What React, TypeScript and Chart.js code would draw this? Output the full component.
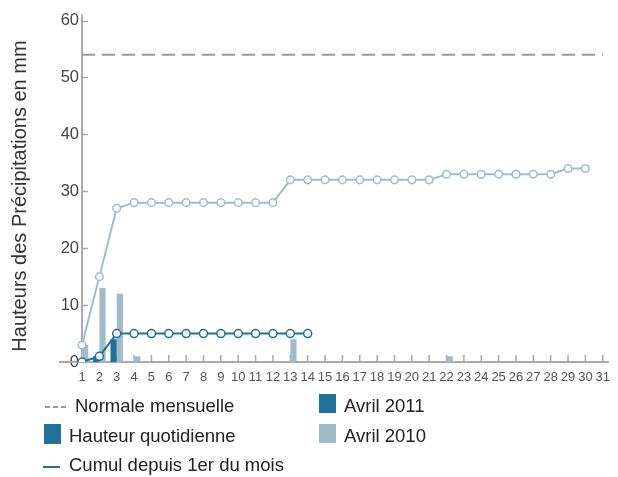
import React, { useEffect, useRef } from 'react';
import { Chart, registerables } from 'chart.js';

Chart.register(...registerables);

const dayLabels = ['1', '2', '3', '4', '5', '6', '7', '8', '9', '10', '11', '12', '13', '14', '15', '16', '17', '18', '19', '20', '21', '22', '23', '24', '25', '26', '27', '28', '29', '30', '31'];

const normaleMensuelle = [54, 54, 54, 54, 54, 54, 54, 54, 54, 54, 54, 54, 54, 54, 54, 54, 54, 54, 54, 54, 54, 54, 54, 54, 54, 54, 54, 54, 54, 54, 54];

const cumul2011 = [0, 1, 5, 5, 5, 5, 5, 5, 5, 5, 5, 5, 5, 5];
const cumul2010 = [3, 15, 27, 28, 28, 28, 28, 28, 28, 28, 28, 28, 32, 32, 32, 32, 32, 32, 32, 32, 32, 33, 33, 33, 33, 33, 33, 33, 34, 34];

const quotidien2011 = [0, 1, 4, 0, 0, 0, 0, 0, 0, 0, 0, 0, 0, 0];
const quotidien2010 = [3, 13, 12, 1, 0, 0, 0, 0, 0, 0, 0, 0, 4, 0, 0, 0, 0, 0, 0, 0, 0, 1, 0, 0, 0, 0, 0, 0, 0, 0];

const yTicks = [0, 10, 20, 30, 40, 50, 60];
const yTitle = 'Hauteurs des Précipitations en mm';

const DARK = '#20719c';
const LIGHT = '#a0bccb';
const AXIS = '#aaaaaa';
const FONT = '"Liberation Sans", Arial, sans-serif';

const decorPlugin = {
  id: 'decor',
  beforeDatasetsDraw(chart: any) {
    const { ctx, chartArea, scales } = chart;
    const x = scales.x;
    const y = scales.y;
    const y0 = y.getPixelForValue(0);
    ctx.save();
    ctx.strokeStyle = AXIS;
    ctx.lineWidth = 2;
    ctx.beginPath();
    ctx.moveTo(chartArea.left, chartArea.top - 6);
    ctx.lineTo(chartArea.left, y0 + 1);
    ctx.stroke();
    ctx.beginPath();
    ctx.moveTo(chartArea.left - 23, y0);
    ctx.lineTo(chartArea.right + 6, y0);
    ctx.stroke();
    ctx.lineWidth = 1.5;
    yTicks.forEach((v) => {
      const py = Math.round(y.getPixelForValue(v)) + 0.5;
      ctx.beginPath();
      ctx.moveTo(chartArea.left, py);
      ctx.lineTo(chartArea.left + 6, py);
      ctx.stroke();
    });
    dayLabels.forEach((_, i) => {
      const px = x.getPixelForValue(i);
      ctx.beginPath();
      ctx.moveTo(px, y0);
      ctx.lineTo(px, y0 - 7);
      ctx.stroke();
    });
    // y-axis title
    ctx.save();
    ctx.translate(20, 196);
    ctx.rotate(-Math.PI / 2);
    ctx.font = `20px ${FONT}`;
    ctx.fillStyle = '#333';
    ctx.textAlign = 'center';
    ctx.textBaseline = 'middle';
    ctx.fillText(yTitle, 0, 0);
    ctx.restore();
    ctx.restore();
  },
  afterDraw(chart: any) {
    const { ctx } = chart;
    ctx.save();
    ctx.font = `18.5px ${FONT}`;
    ctx.fillStyle = '#222';
    ctx.textBaseline = 'middle';
    ctx.textAlign = 'left';
    // Normale mensuelle
    ctx.strokeStyle = '#999';
    ctx.lineWidth = 2;
    ctx.setLineDash([5, 3]);
    ctx.beginPath();
    ctx.moveTo(45, 407);
    ctx.lineTo(69, 407);
    ctx.stroke();
    ctx.setLineDash([]);
    ctx.fillText('Normale mensuelle', 75, 407);
    // Hauteur quotidienne
    ctx.fillStyle = DARK;
    ctx.fillRect(44, 424, 17, 20);
    ctx.fillStyle = '#222';
    ctx.fillText('Hauteur quotidienne', 69, 437);
    // Cumul
    ctx.strokeStyle = DARK;
    ctx.lineWidth = 2;
    ctx.beginPath();
    ctx.moveTo(43, 467);
    ctx.lineTo(60, 467);
    ctx.stroke();
    ctx.fillText('Cumul depuis 1er du mois', 69, 466);
    // Avril 2011
    ctx.fillStyle = DARK;
    ctx.fillRect(319, 394, 17, 19);
    ctx.fillStyle = '#222';
    ctx.fillText('Avril 2011', 344, 407);
    // Avril 2010
    ctx.fillStyle = LIGHT;
    ctx.fillRect(319, 424, 17, 19);
    ctx.fillStyle = '#222';
    ctx.fillText('Avril 2010', 344, 437);
    ctx.restore();
  },
};

export default function App() {
  const canvasRef = useRef<HTMLCanvasElement | null>(null);

  useEffect(() => {
    const canvas = canvasRef.current;
    if (!canvas) return;
    const chart = new Chart(canvas, {
      type: 'bar',
      data: {
        labels: dayLabels,
        datasets: [
          {
            type: 'line',
            label: 'Normale mensuelle',
            data: normaleMensuelle,
            borderColor: '#999999',
            borderWidth: 2,
            borderDash: [13, 7],
            pointRadius: 0,
            fill: false,
          },
          {
            type: 'line',
            label: 'Cumul 2011',
            data: cumul2011,
            borderColor: DARK,
            borderWidth: 2,
            pointRadius: 4,
            pointBackgroundColor: '#ffffff',
            pointBorderColor: DARK,
            pointBorderWidth: 1.5,
            fill: false,
            tension: 0,
          },
          {
            type: 'line',
            label: 'Cumul 2010',
            data: cumul2010,
            borderColor: LIGHT,
            borderWidth: 2,
            pointRadius: 3.8,
            pointBackgroundColor: '#ffffff',
            pointBorderColor: LIGHT,
            pointBorderWidth: 1.5,
            fill: false,
            tension: 0,
          },
          {
            type: 'bar',
            label: 'Avril 2011',
            data: quotidien2011,
            backgroundColor: DARK,
            borderWidth: 0,
            categoryPercentage: 0.72,
            barPercentage: 1,
          },
          {
            type: 'bar',
            label: 'Avril 2010',
            data: quotidien2010,
            backgroundColor: LIGHT,
            borderWidth: 0,
            categoryPercentage: 0.72,
            barPercentage: 1,
          },
        ],
      },
      options: {
        animation: false,
        responsive: false,
        maintainAspectRatio: false,
        layout: { padding: { left: 0, top: 20.5, right: 9, bottom: 0 } },
        plugins: {
          legend: { display: false },
          tooltip: { enabled: false },
        },
        scales: {
          x: {
            type: 'category',
            offset: false,
            grid: { display: false, drawTicks: false, offset: false },
            border: { display: false },
            ticks: {
              autoSkip: false,
              maxRotation: 0,
              minRotation: 0,
              padding: 8,
              color: '#555',
              font: { family: FONT, size: 13 },
            },
            afterFit(s: any) {
              s.height = 115;
            },
          },
          y: {
            min: 0,
            max: 60,
            grid: { display: false, drawTicks: false },
            border: { display: false },
            ticks: {
              stepSize: 10,
              padding: 3,
              color: '#444',
              font: { family: FONT, size: 16.5 },
            },
            afterFit(s: any) {
              s.width = 82;
            },
          },
        },
      },
      plugins: [decorPlugin],
    });
    return () => chart.destroy();
  }, []);

  return (
    <div style={{ position: 'fixed', left: 0, top: 0, width: 618, height: 477, background: '#fff' }}>
      <canvas ref={canvasRef} width={618} height={477} style={{ width: 618, height: 477, display: 'block' }} />
    </div>
  );
}
